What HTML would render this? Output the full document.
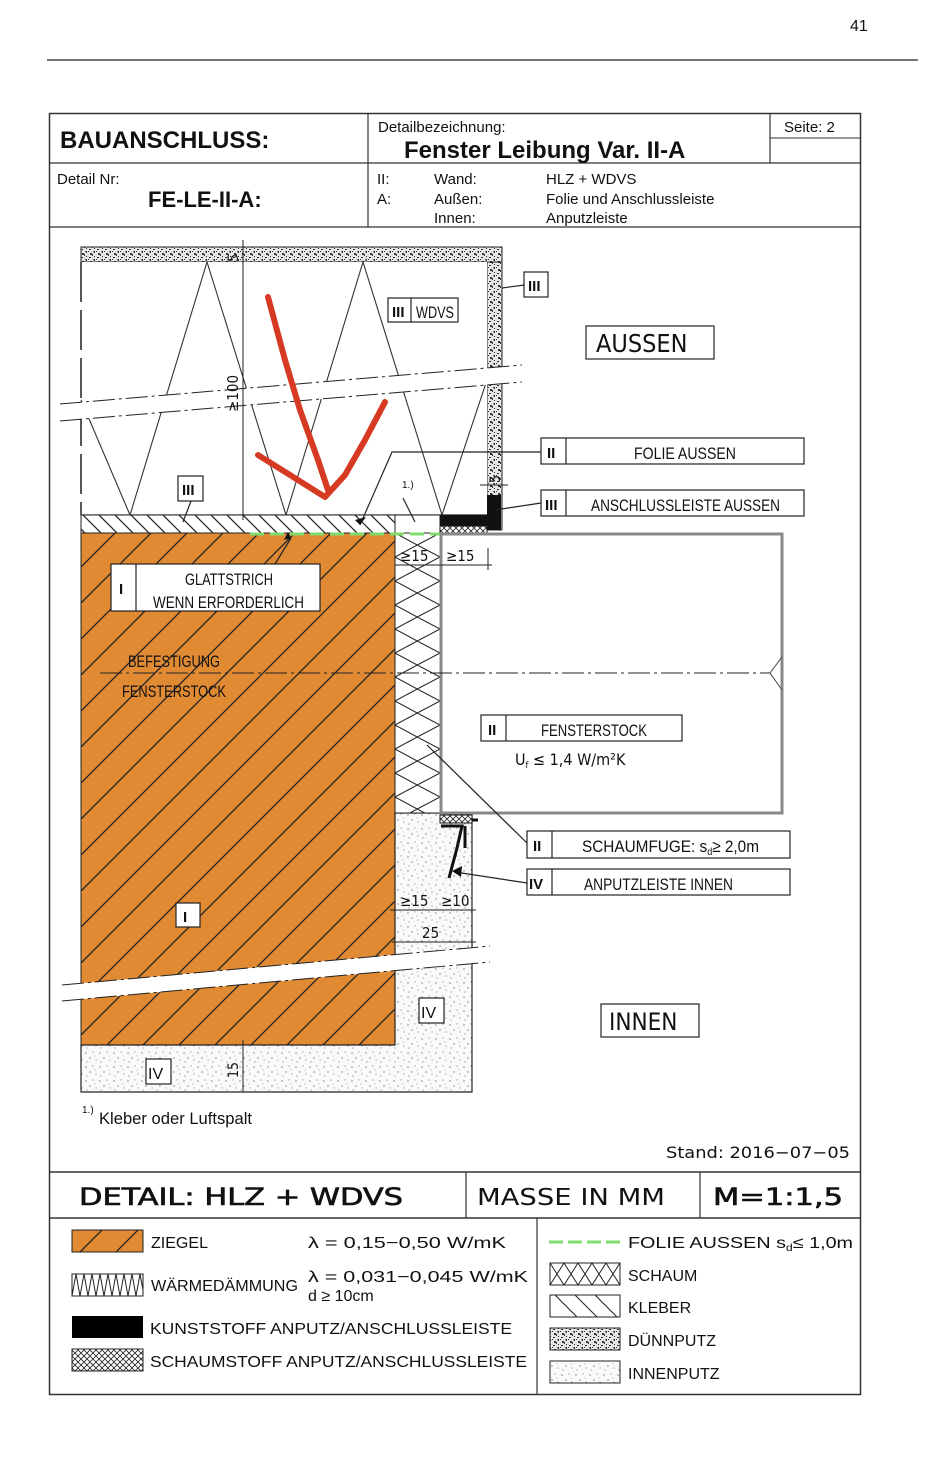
<!DOCTYPE html>
<html><head><meta charset="utf-8"><style>
html,body{margin:0;padding:0;background:#fff}
svg{display:block}
text{font-family:"Liberation Sans",sans-serif;fill:#111}
.n{font-family:"DejaVu Sans Condensed","Liberation Sans Narrow","Liberation Sans",sans-serif}
</style></head><body>
<svg width="944" height="1457" viewBox="0 0 944 1457" xmlns="http://www.w3.org/2000/svg">
<defs>
<pattern id="ziegel" width="36" height="36" patternUnits="userSpaceOnUse">
<rect width="36" height="36" fill="#e08a34"/>
<path d="M0 36 L36 0 M-9 9 L9 -9 M27 45 L45 27" stroke="#222" stroke-width="1.3"/>
</pattern>
<pattern id="kleber" width="16" height="16" patternUnits="userSpaceOnUse">
<rect width="16" height="16" fill="#fff"/>
<path d="M0 0 L16 16 M-8 8 L8 24 M8 -8 L24 8" stroke="#222" stroke-width="1.2"/>
</pattern>
<pattern id="duenn" width="8" height="8" patternUnits="userSpaceOnUse">
<rect width="8" height="8" fill="#e6e6e6"/>
<path d="M1 1h2v1h-2zM5 3h2v2h-1zM2 5h2v2h-2zM6 0h1v1h-1zM0 3h1v1h-1zM4 6h1v2h-1z" fill="#333"/>
</pattern>
<pattern id="innen" width="14" height="14" patternUnits="userSpaceOnUse">
<rect width="14" height="14" fill="#fafafa"/>
<circle cx="2" cy="3" r=".6" fill="#444"/><circle cx="9" cy="2" r=".5" fill="#444"/>
<circle cx="6" cy="8" r=".6" fill="#444"/><circle cx="12" cy="10" r=".5" fill="#444"/>
<circle cx="3" cy="12" r=".5" fill="#444"/><circle cx="11" cy="6" r=".4" fill="#444"/>
</pattern>
<pattern id="cross" width="6" height="6" patternUnits="userSpaceOnUse">
<rect width="6" height="6" fill="#fff"/>
<path d="M0 0L6 6M6 0L0 6" stroke="#222" stroke-width=".8"/>
</pattern>
<pattern id="schaum" width="45" height="24" patternUnits="userSpaceOnUse" x="395" y="533">
<rect width="45" height="24" fill="#fff"/>
<path d="M0 0 Q22 12 45 24 M45 0 Q22 12 0 24" stroke="#222" stroke-width="1" fill="none"/>
<path d="M0 0 Q-6 12 0 24 M45 0 Q51 12 45 24" stroke="#222" stroke-width="1" fill="none"/>
</pattern>
</defs>

<text x="850" y="31" font-size="16">41</text>
<line x1="47" y1="60" x2="918" y2="60" stroke="#222" stroke-width="1.2"/>

<rect x="49.5" y="113.5" width="811" height="1281" fill="none" stroke="#333" stroke-width="1.5"/>
<line x1="49" y1="163" x2="861" y2="163" stroke="#333" stroke-width="1.2"/>
<line x1="49" y1="227" x2="861" y2="227" stroke="#333" stroke-width="1.2"/>
<line x1="368" y1="113" x2="368" y2="227" stroke="#333" stroke-width="1.2"/>
<line x1="770" y1="113" x2="770" y2="163" stroke="#333" stroke-width="1.2"/>
<line x1="770" y1="138" x2="861" y2="138" stroke="#333" stroke-width="1"/>
<text x="60" y="148" font-size="24" font-weight="bold">BAUANSCHLUSS:</text>
<text x="378" y="132" font-size="15">Detailbezeichnung:</text>
<text x="404" y="158" font-size="24" font-weight="bold">Fenster Leibung Var. II-A</text>
<text x="784" y="132" font-size="15">Seite: 2</text>
<text x="57" y="184" font-size="15">Detail Nr:</text>
<text x="148" y="207" font-size="22" font-weight="bold">FE-LE-II-A:</text>
<g font-size="15"><text x="377" y="184">II:</text><text x="377" y="204">A:</text>
<text x="434" y="184">Wand:</text><text x="434" y="204">Außen:</text><text x="434" y="223">Innen:</text>
<text x="546" y="184">HLZ + WDVS</text><text x="546" y="204">Folie und Anschlussleiste</text><text x="546" y="223">Anputzleiste</text></g>

<rect x="81" y="247" width="421" height="15" fill="url(#duenn)" stroke="#222"/>
<rect x="487" y="262" width="15" height="268" fill="url(#duenn)" stroke="#222"/>
<rect x="81" y="262" width="406" height="253" fill="#fff"/>
<polyline points="81,400 130,515 207,262 286,515 363,262 442,515 487,380" fill="none" stroke="#333" stroke-width="1.1"/>
<line x1="81" y1="262" x2="81" y2="515" stroke="#222" stroke-width="1.5" stroke-dasharray="40,8"/>
<line x1="81" y1="515" x2="487" y2="515" stroke="#222" stroke-width="1.2"/>
<rect x="81" y="515" width="314" height="18" fill="url(#kleber)" stroke="#222"/>
<rect x="395" y="515" width="45" height="18" fill="#fff" stroke="#222"/>
<rect x="440" y="515" width="47" height="11" fill="#111"/>
<rect x="440" y="526" width="47" height="7" fill="url(#cross)" stroke="#111"/>
<rect x="487" y="495" width="14" height="35" fill="#111"/>
<rect x="81" y="533" width="314" height="512" fill="url(#ziegel)" stroke="#222"/>
<path d="M395 813 H472 V1092 H81 V1045 H395 Z" fill="url(#innen)" stroke="#222" stroke-width="1.2"/>
<rect x="395" y="533" width="45" height="280" fill="url(#schaum)" stroke="#222"/>
<line x1="250" y1="534" x2="440" y2="534" stroke="#7fdc6a" stroke-width="3" stroke-dasharray="14,6"/>
<rect x="441" y="534" width="341" height="279" fill="#fff" stroke="#888" stroke-width="3"/>
<line x1="100" y1="673" x2="770" y2="673" stroke="#222" stroke-dasharray="22,4,3,4"/>
<path d="M782 657 L770 673 L782 690" fill="none" stroke="#444"/>
<rect x="440" y="815" width="32" height="8" fill="url(#cross)" stroke="#111"/>
<path d="M441 826 L462 826 L457 848 L449 878 M465 826 V848 M472 820 L478 820" stroke="#111" stroke-width="3" fill="none"/>

<polygon points="60,404 522,365 522,382 60,421" fill="#fff"/>
<line x1="60" y1="404" x2="522" y2="365" stroke="#222" stroke-dasharray="22,4,3,4"/>
<line x1="60" y1="421" x2="522" y2="382" stroke="#222" stroke-dasharray="22,4,3,4"/>
<polygon points="62,985 490,946 490,962 62,1001" fill="#fff"/>
<line x1="62" y1="985" x2="490" y2="946" stroke="#222" stroke-dasharray="22,4,3,4"/>
<line x1="62" y1="1001" x2="490" y2="962" stroke="#222" stroke-dasharray="22,4,3,4"/>

<line x1="243" y1="240" x2="243" y2="520" stroke="#222"/>
<text transform="translate(238,412) rotate(-90)" font-size="15" class="n">≥100</text>
<text transform="translate(238,262) rotate(-90)" font-size="14" class="n">5</text>
<text transform="translate(500,483) rotate(-90)" font-size="14" class="n">5</text>
<line x1="480" y1="485" x2="508" y2="485" stroke="#222"/>
<line x1="395" y1="565" x2="492" y2="565" stroke="#222"/>
<text x="400" y="561" font-size="15" class="n">≥15</text><text x="446" y="561" font-size="15" class="n">≥15</text>
<line x1="488" y1="548" x2="488" y2="570" stroke="#222"/>
<line x1="390" y1="910" x2="476" y2="910" stroke="#222"/>
<text x="400" y="906" font-size="15" class="n">≥15</text><text x="441" y="906" font-size="15" class="n">≥10</text>
<line x1="392" y1="942" x2="476" y2="942" stroke="#222"/>
<text x="422" y="938" font-size="15" class="n">25</text>
<line x1="243" y1="1040" x2="243" y2="1092" stroke="#222"/>
<text transform="translate(238,1078) rotate(-90)" font-size="14" class="n">15</text>

<g fill="#fff" stroke="#222" stroke-width="1.2">
<rect x="388" y="298" width="70" height="24"/>
<rect x="524" y="272" width="24" height="25"/>
<rect x="178" y="476" width="25" height="25"/>
<rect x="541" y="438" width="263" height="26"/>
<rect x="541" y="490" width="263" height="26"/>
<rect x="111" y="564" width="209" height="47"/>
<rect x="481" y="715" width="201" height="26"/>
<rect x="527" y="831" width="263" height="27"/>
<rect x="527" y="869" width="263" height="26"/>
<rect x="176" y="903" width="24" height="24"/>
<rect x="419" y="998" width="25" height="25"/>
<rect x="146" y="1059" width="25" height="25"/>
<rect x="586" y="326" width="128" height="33"/>
<rect x="601" y="1004" width="98" height="33"/>
</g>
<g stroke="#222" stroke-width="1.2">
<line x1="411" y1="298" x2="411" y2="322"/>
<line x1="566" y1="438" x2="566" y2="464"/>
<line x1="566" y1="490" x2="566" y2="516"/>
<line x1="136" y1="564" x2="136" y2="611"/>
<line x1="506" y1="715" x2="506" y2="741"/>
<line x1="552" y1="831" x2="552" y2="858"/>
<line x1="552" y1="869" x2="552" y2="895"/>
<line x1="502" y1="288" x2="524" y2="285"/>
<polyline points="541,452 392,452 360,525" fill="none"/>
<line x1="541" y1="503" x2="495" y2="510"/>
<line x1="191" y1="501" x2="183" y2="522"/>
<line x1="291" y1="538" x2="275" y2="564"/>
<line x1="403" y1="498" x2="415" y2="522"/>
<line x1="427" y1="745" x2="527" y2="843"/>
<line x1="527" y1="883" x2="455" y2="872"/>
</g>
<polygon points="360,525 355,520 366,517" fill="#111"/>
<polygon points="291,538 284,540 288,532" fill="#111"/>
<polygon points="452,871 462,866 461,877" fill="#111"/>

<g class="n" font-size="17">
<text x="392" y="317" font-weight="bold" font-size="15">III</text><text x="416" y="318" textLength="38" lengthAdjust="spacingAndGlyphs">WDVS</text>
<text x="528" y="291" font-weight="bold" font-size="15">III</text>
<text x="182" y="495" font-weight="bold" font-size="15">III</text>
<text x="547" y="458" font-weight="bold" font-size="15">II</text>
<text x="634" y="459" textLength="102" lengthAdjust="spacingAndGlyphs">FOLIE AUSSEN</text>
<text x="545" y="510" font-weight="bold" font-size="15">III</text>
<text x="591" y="511" textLength="189" lengthAdjust="spacingAndGlyphs">ANSCHLUSSLEISTE AUSSEN</text>
<text x="119" y="594" font-weight="bold" font-size="15">I</text>
<text x="185" y="585" textLength="88" lengthAdjust="spacingAndGlyphs">GLATTSTRICH</text>
<text x="153" y="608" textLength="151" lengthAdjust="spacingAndGlyphs">WENN ERFORDERLICH</text>
<text x="128" y="667" textLength="92" lengthAdjust="spacingAndGlyphs">BEFESTIGUNG</text>
<text x="122" y="697" textLength="104" lengthAdjust="spacingAndGlyphs">FENSTERSTOCK</text>
<text x="488" y="735" font-weight="bold" font-size="15">II</text>
<text x="541" y="736" textLength="106" lengthAdjust="spacingAndGlyphs">FENSTERSTOCK</text>
<text x="533" y="851" font-weight="bold" font-size="15">II</text>
<text x="582" y="852" textLength="177" lengthAdjust="spacingAndGlyphs">SCHAUMFUGE: s<tspan font-size="10" dy="3">d</tspan><tspan dy="-3">≥ 2,0m</tspan></text>
<text x="529" y="889" font-weight="bold" font-size="15">IV</text>
<text x="584" y="890" textLength="149" lengthAdjust="spacingAndGlyphs">ANPUTZLEISTE INNEN</text>
<text x="183" y="922" font-weight="bold" font-size="15">I</text>
<text x="421" y="1018" font-size="16">IV</text>
<text x="148" y="1079" font-size="16">IV</text>
<text x="82" y="1113" font-size="10">1.)</text>
<text x="99" y="1124" textLength="153" lengthAdjust="spacingAndGlyphs">Kleber oder Luftspalt</text>
<text x="402" y="488" font-size="10">1.)</text>
</g>
<text x="515" y="765" font-size="16" class="n">U<tspan font-size="9" dy="3">f</tspan><tspan dy="-3"> ≤ 1,4 W/m²K</tspan></text>
<text x="596" y="352" font-size="25" class="n">AUSSEN</text>
<text x="609" y="1030" font-size="24" class="n">INNEN</text>

<path d="M268 297 L285 360 L300 410 L318 460 L328 490 M258 455 L290 475 L325 497 L345 475 L365 440 L385 402" fill="none" stroke="#d63a22" stroke-width="6" stroke-linecap="round" stroke-linejoin="round"/>

<text x="666" y="1158" font-size="16" class="n" textLength="184" lengthAdjust="spacingAndGlyphs">Stand: 2016−07−05</text>

<line x1="49" y1="1172" x2="861" y2="1172" stroke="#333" stroke-width="1.5"/>
<line x1="49" y1="1218" x2="861" y2="1218" stroke="#333" stroke-width="1.5"/>
<line x1="466" y1="1172" x2="466" y2="1218" stroke="#333" stroke-width="1.2"/>
<line x1="700" y1="1172" x2="700" y2="1218" stroke="#333" stroke-width="1.2"/>
<line x1="537" y1="1218" x2="537" y2="1395" stroke="#333" stroke-width="1.2"/>
<text x="79" y="1205" font-size="24" class="n" textLength="324" lengthAdjust="spacingAndGlyphs" stroke="#111" stroke-width=".6">DETAIL:  HLZ  +  WDVS</text>
<text x="477" y="1205" font-size="23" class="n" fill="#333" textLength="188" lengthAdjust="spacingAndGlyphs">MASSE IN MM</text>
<text x="713" y="1205" font-size="24" class="n" textLength="130" lengthAdjust="spacingAndGlyphs" stroke="#111" stroke-width=".6">M=1:1,5</text>

<rect x="72" y="1230" width="71" height="22" fill="url(#ziegel)" stroke="#222"/>
<rect x="72" y="1274" width="71" height="22" fill="#fff" stroke="#222"/>
<polyline points="72,1296 76,1274 80,1296 84,1274 88,1296 92,1274 96,1296 100,1274 104,1296 108,1274 112,1296 116,1274 120,1296 124,1274 128,1296 132,1274 136,1296 140,1274 143,1290" fill="none" stroke="#222"/>
<rect x="72" y="1316" width="71" height="22" fill="#000"/>
<rect x="72" y="1349" width="71" height="22" fill="url(#cross)" stroke="#222"/>
<g class="n" font-size="16">
<text x="151" y="1248" textLength="57" lengthAdjust="spacingAndGlyphs">ZIEGEL</text>
<text x="308" y="1248" textLength="198" lengthAdjust="spacingAndGlyphs">λ = 0,15−0,50 W/mK</text>
<text x="151" y="1291" textLength="147" lengthAdjust="spacingAndGlyphs">WÄRMEDÄMMUNG</text>
<text x="308" y="1282" textLength="220" lengthAdjust="spacingAndGlyphs">λ = 0,031−0,045 W/mK</text>
<text x="308" y="1301">d ≥ 10cm</text>
<text x="150" y="1334" textLength="362" lengthAdjust="spacingAndGlyphs">KUNSTSTOFF ANPUTZ/ANSCHLUSSLEISTE</text>
<text x="150" y="1367" textLength="377" lengthAdjust="spacingAndGlyphs">SCHAUMSTOFF ANPUTZ/ANSCHLUSSLEISTE</text>
<text x="628" y="1248" textLength="225" lengthAdjust="spacingAndGlyphs">FOLIE AUSSEN s<tspan font-size="10" dy="3">d</tspan><tspan dy="-3">≤ 1,0m</tspan></text>
<text x="628" y="1281">SCHAUM</text>
<text x="628" y="1313">KLEBER</text>
<text x="628" y="1346">DÜNNPUTZ</text>
<text x="628" y="1379">INNENPUTZ</text>
</g>
<line x1="549" y1="1242" x2="622" y2="1242" stroke="#7fdc6a" stroke-width="3" stroke-dasharray="14,5"/>
<rect x="550" y="1263" width="70" height="22" fill="#fff" stroke="#222"/>
<path d="M550 1263 L564 1285 M564 1263 L550 1285 M564 1263 L578 1285 M578 1263 L564 1285 M578 1263 L592 1285 M592 1263 L578 1285 M592 1263 L606 1285 M606 1263 L592 1285 M606 1263 L620 1285 M620 1263 L606 1285" stroke="#222"/>
<rect x="550" y="1295" width="70" height="22" fill="#fff" stroke="#222"/>
<path d="M555 1295 L577 1317 M575 1295 L597 1317 M595 1295 L617 1317" stroke="#222"/>
<rect x="550" y="1328" width="70" height="22" fill="url(#duenn)" stroke="#222"/>
<rect x="550" y="1361" width="70" height="22" fill="url(#innen)" stroke="#222"/>
</svg>
</body></html>
